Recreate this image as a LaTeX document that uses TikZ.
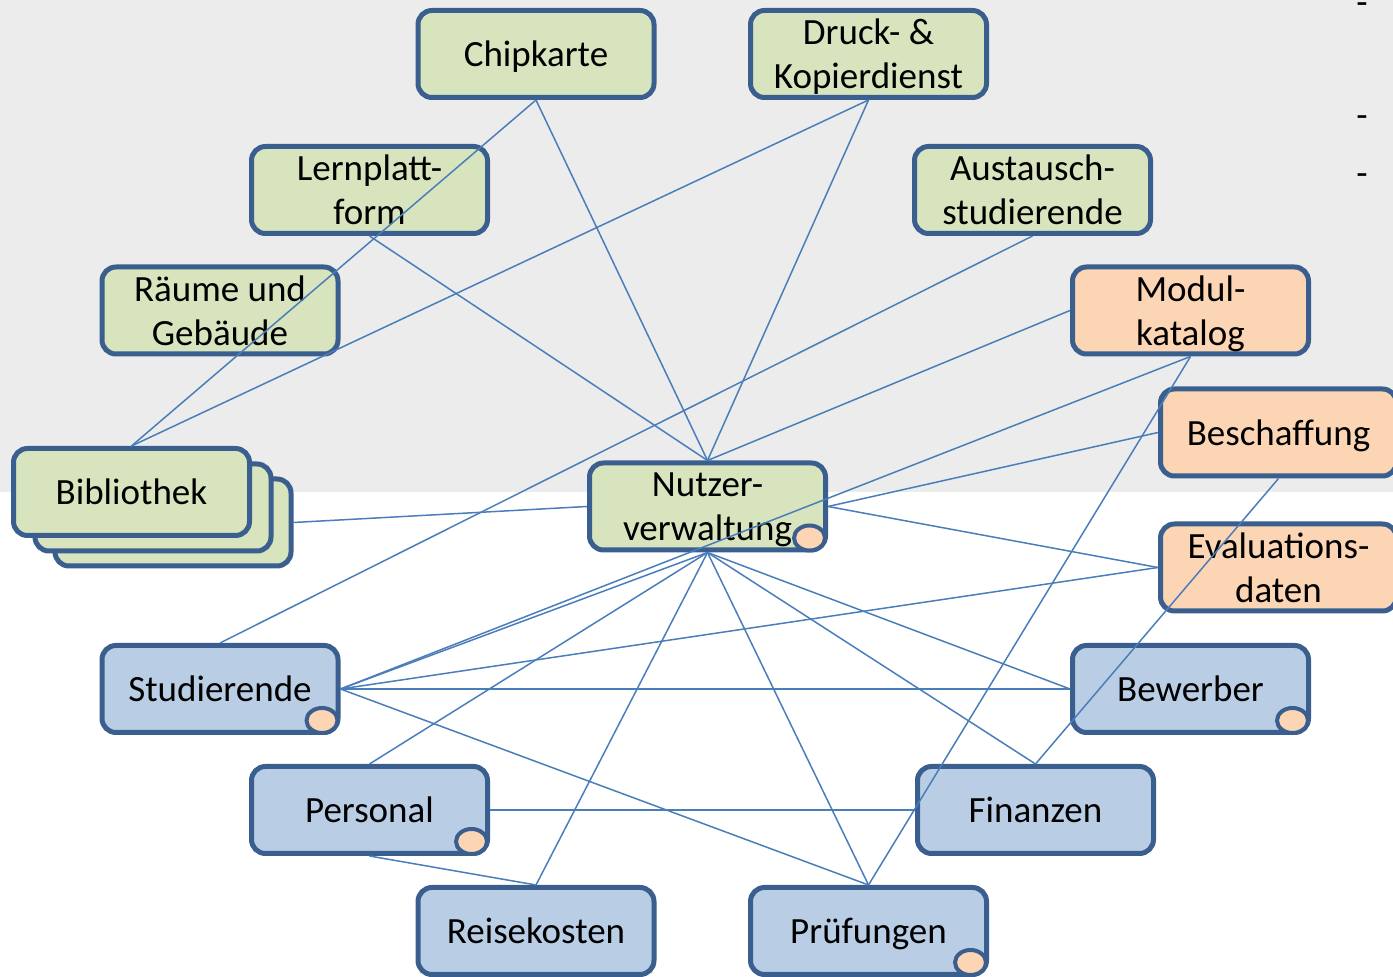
\documentclass[tikz,border=0pt]{standalone}
\usepackage{fontspec}
\setmainfont{Carlito}
\definecolor{bggray}{HTML}{ECECEC}
\definecolor{gfill}{HTML}{D7E4BD}
\definecolor{ofill}{HTML}{FCD5B5}
\definecolor{bfill}{HTML}{B9CDE5}
\definecolor{bordc}{HTML}{3A5F8F}
\definecolor{linec}{HTML}{4A7EBB}
\begin{document}
\begin{tikzpicture}[x=0.5pt,y=-0.5pt,
  box/.style={draw=bordc, line width=2.5pt, rounded corners=7pt, minimum width=118pt,
    minimum height=43.5pt, inner sep=0pt, align=center, text depth=0pt,
    font=\fontsize{18.5}{22}\selectfont},
  gbox/.style={box, fill=gfill},
  obox/.style={box, fill=ofill},
  bbox/.style={box, fill=bfill},
  conn/.style={draw=linec, line width=0.75pt},
  dotmark/.style={draw=bordc, line width=2pt, fill=ofill},
  hyph/.style={font=\fontsize{18.5}{22}\selectfont, inner sep=0pt, anchor=base}]
\useasboundingbox (0,0) rectangle (1393,977);
\clip (0,0) rectangle (1393,977);
\fill[bggray] (0,0) rectangle (1393,492);
% dashes at top right
\node[hyph] (d1) at (1362,15) {-};
\node[hyph] (d2) at (1362,128) {-};
\node[hyph] (d3) at (1362,186) {-};
% green nodes
\node[gbox] (chip) at (536,54) {Chipkarte};
\node[gbox] (druck) at (868.5,54) {Druck- \&\\Kopierdienst};
\node[gbox] (lern) at (369.5,190) {Lernplatt-\\form};
\node[gbox] (aus) at (1032.5,190) {Austausch-\\studierende};
\node[gbox] (raum) at (220,310.5) {Räume und\\Gebäude};
\node[gbox] (bib3) at (173,522.5) {};
\node[gbox] (bib2) at (153,507.5) {};
\node[gbox] (bib) at (131.5,492) {Bibliothek};
\node[gbox] (nutz) at (707.5,506.5) {Nutzer-\\verwaltung};
% orange nodes
\node[obox] (modul) at (1190.5,310.5) {Modul-\\katalog};
\node[obox] (besch) at (1278.5,432.5) {Beschaffung};
\node[obox] (eval) at (1278.5,567.5) {Evaluations-\\daten};
% blue nodes
\node[bbox] (stud) at (220,689) {Studierende};
\node[bbox] (bew) at (1190.5,689) {Bewerber};
\node[bbox] (pers) at (369.5,810) {Personal};
\node[bbox] (fin) at (1035.5,810) {Finanzen};
\node[bbox] (reise) at (536,931) {Reisekosten};
\node[bbox] (pruef) at (868.5,931) {Prüfungen};
% connectors
\draw[conn] (chip.south) -- (nutz.north);
\draw[conn] (chip.south) -- (bib.north);
\draw[conn] (druck.south) -- (nutz.north);
\draw[conn] (druck.south) -- (bib.north);
\draw[conn] (lern.south) -- (nutz.north);
\draw[conn] (aus.south) -- (stud.north);
\draw[conn] (modul.west) -- (nutz.north);
\draw[conn] (modul.south) -- (pruef.north);
\draw[conn] (stud.east) -- (modul.south);
\draw[conn] (besch.west) -- (nutz.east);
\draw[conn] (besch.south) -- (fin.north);
\draw[conn] (eval.west) -- (nutz.east);
\draw[conn] (eval.west) -- (stud.east);
\draw[conn] (bib3.east) -- (nutz.west);
\draw[conn] (nutz.south) -- (stud.east);
\draw[conn] (nutz.south) -- (pers.north);
\draw[conn] (nutz.south) -- (reise.north);
\draw[conn] (nutz.south) -- (pruef.north);
\draw[conn] (nutz.south) -- (fin.north);
\draw[conn] (nutz.south) -- (bew.west);
\draw[conn] (stud.east) -- (bew.west);
\draw[conn] (stud.east) -- (pruef.north);
\draw[conn] (pers.east) -- (fin.west);
\draw[conn] (pers.south) -- (reise.north);
% small circles
\foreach \n in {nutz,stud,bew,pers,pruef}
  \draw[dotmark] ([shift={(-9.25pt,7.25pt)}]\n.south east) ellipse [x radius=7.75pt, y radius=6.25pt];
\end{tikzpicture}
\end{document}
